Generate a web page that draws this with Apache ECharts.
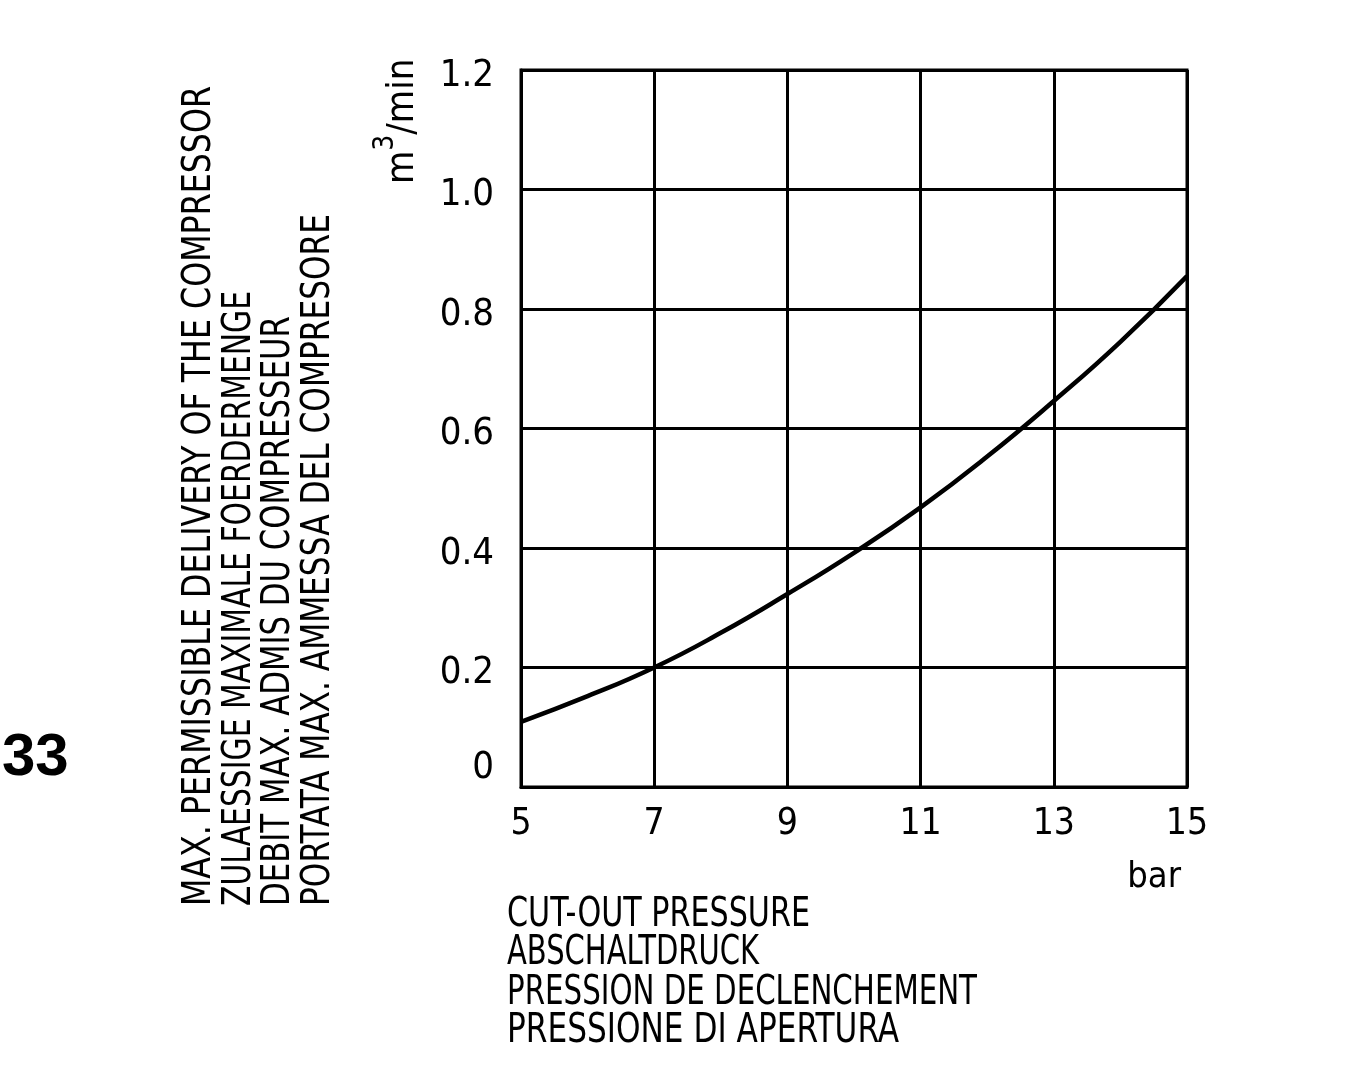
<!DOCTYPE html>
<html>
<head>
<meta charset="utf-8">
<script src="https://cdn.jsdelivr.net/npm/echarts@6/dist/echarts.min.js"></script>
<style>
html,body{margin:0;padding:0;background:#fff;}
#chart{width:1348px;height:1082px;}
</style>
</head>
<body>
<div id="chart"></div>
<script>
// ---- data ----
const pressure = [5, 6, 7, 8, 9, 10, 11, 12, 13, 14, 15];           // bar
const delivery = [0.109, 0.152, 0.200, 0.258, 0.323, 0.392, 0.468, 0.553, 0.646, 0.745, 0.855]; // m3/min
const yAxisTitleLines = [
  'MAX. PERMISSIBLE DELIVERY OF THE COMPRESSOR',
  'ZULAESSIGE MAXIMALE FOERDERMENGE',
  'DEBIT MAX. ADMIS DU COMPRESSEUR',
  'PORTATA MAX. AMMESSA DEL COMPRESORE'
];
const xAxisTitleLines = [
  'CUT-OUT PRESSURE',
  'ABSCHALTDRUCK',
  'PRESSION DE DECLENCHEMENT',
  'PRESSIONE DI APERTURA'
];
const figureNumber = '33';
const xUnit = 'bar';

// ---- layout / style ----
const FONT = '"Liberation Sans Narrow", "DejaVu Sans Condensed", "Liberation Sans", sans-serif';
const ctx = document.createElement('canvas').getContext('2d');
function textWidth(t, size) { ctx.font = size + 'px ' + FONT; return ctx.measureText(t).width; }

const yTitleX = [200, 240, 279, 319];
const yTitleLen = [820, 615, 590, 692];
const xTitleY = [916, 954, 994, 1032];
const xTitleLen = [303, 252, 470, 392];
const TS = 39;

const graphics = [];
yAxisTitleLines.forEach((t, i) => {
  graphics.push({
    type: 'text', x: yTitleX[i], y: 906, rotation: Math.PI / 2,
    scaleX: yTitleLen[i] / textWidth(t, TS), scaleY: 1,
    style: { text: t, font: TS + 'px ' + FONT, fill: '#000', align: 'left', verticalAlign: 'middle' }
  });
});
xAxisTitleLines.forEach((t, i) => {
  graphics.push({
    type: 'text', x: 507, y: xTitleY[i],
    scaleX: xTitleLen[i] / textWidth(t, 40), scaleY: 1,
    style: { text: t, font: '40px ' + FONT, fill: '#000', align: 'left', verticalAlign: 'middle' }
  });
});
graphics.push({
  type: 'text', x: 1181, y: 878,
  style: { text: xUnit, font: '36px ' + FONT, fill: '#000', align: 'right', verticalAlign: 'middle' }
});
graphics.push({
  type: 'text', x: 2, y: 758,
  style: { text: figureNumber, font: 'bold 60px "Liberation Sans", Arial, sans-serif', fill: '#000', align: 'left', verticalAlign: 'middle' }
});
graphics.push({
  type: 'text', x: 422, y: 184, rotation: Math.PI / 2,
  style: {
    text: '{m|m}{s|3}{m|/min}', align: 'left', verticalAlign: 'bottom',
    rich: {
      m: { font: '38px ' + FONT, fill: '#000', verticalAlign: 'bottom' },
      s: { font: '28px ' + FONT, fill: '#000', verticalAlign: 'bottom', padding: [0, 0, 22, 0] }
    }
  }
});

const chart = echarts.init(document.getElementById('chart'), null, { renderer: 'canvas' });
chart.setOption({
  backgroundColor: '#fff',
  animation: false,
  grid: {
    left: 521, top: 70, width: 666, height: 717,
    show: true, borderColor: '#000', borderWidth: 3, backgroundColor: 'transparent',
    containLabel: false, outerBoundsMode: 'none'
  },
  xAxis: {
    type: 'value', min: 5, max: 15, interval: 2,
    axisLine: { show: true, lineStyle: { color: '#000', width: 3 } },
    axisTick: { show: false },
    splitLine: { show: true, lineStyle: { color: '#000', width: 3 } },
    axisLabel: { color: '#000', fontFamily: FONT, fontSize: 37, margin: 19, showMinLabel: true, showMaxLabel: true }
  },
  yAxis: {
    type: 'value', min: 0, max: 1.2, interval: 0.2,
    axisLine: { show: true, lineStyle: { color: '#000', width: 3 } },
    axisTick: { show: false },
    splitLine: { show: true, lineStyle: { color: '#000', width: 3 } },
    axisLabel: {
      color: '#000', fontFamily: FONT, fontSize: 38, margin: 27,
      formatter: v => v === 0 ? '{z|0}' : '{n|' + v.toFixed(1) + '}',
      rich: {
        z: { fontFamily: FONT, fontSize: 38, color: '#000', padding: [0, 0, 38, 0] },
        n: { fontFamily: FONT, fontSize: 38, color: '#000', padding: [12, 0, 0, 0] }
      }
    }
  },
  series: [{
    type: 'line', smooth: true, symbol: 'none',
    data: pressure.map((p, i) => [p, delivery[i]]),
    lineStyle: { color: '#000', width: 4.5 }
  }],
  graphic: graphics
});
</script>
</body>
</html>
